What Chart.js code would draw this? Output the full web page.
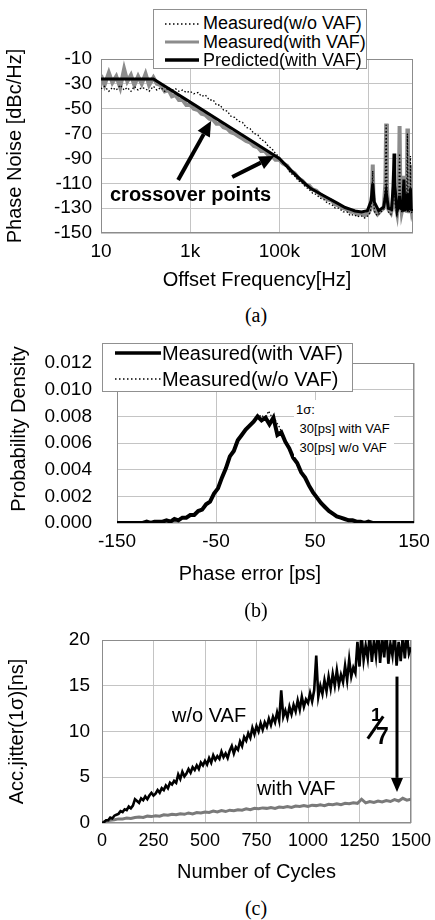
<!DOCTYPE html>
<html>
<head>
<meta charset="utf-8">
<title>VAF jitter</title>
<script src="https://cdn.jsdelivr.net/npm/chart.js@4.4.0/dist/chart.umd.min.js"></script>
<style>
  body { margin: 0; width: 435px; height: 920px; position: relative; overflow: hidden; background: #fff;
         font-family: "Liberation Sans", Arial, sans-serif; color: #000; }
  canvas { position: absolute; left: 0; }
  .txt { position: absolute; white-space: nowrap; line-height: 24px; }
  .cap { position: absolute; font-family: "Liberation Serif", "Times New Roman", serif; font-size: 20px;
         width: 60px; text-align: center; line-height: 24px; }
  .legend { position: absolute; background: #fff; border: 1px solid #909090; z-index: 2; }
  .legend svg { position: absolute; }
  .legend span { position: absolute; white-space: nowrap; }
</style>
</head>
<body>

<canvas id="chartA" width="435" height="300" style="top:0px"></canvas>
<canvas id="chartB" width="435" height="260" style="top:330px"></canvas>
<canvas id="chartC" width="435" height="290" style="top:600px"></canvas>

<!-- legend (a) -->
<div class="legend" style="left:153px;top:9px;width:212px;height:58px;">
  <svg style="left:11px;top:12px" width="34" height="4"><line x1="0" y1="2" x2="34" y2="2" stroke="#000" stroke-width="1.3" stroke-dasharray="1.5 2.5"/></svg>
  <span style="left:49px;top:2px;font-size:18px;line-height:22px">Measured(w/o VAF)</span>
  <svg style="left:11px;top:29px" width="34" height="6"><line x1="0" y1="3" x2="34" y2="3" stroke="#8c8c8c" stroke-width="3"/></svg>
  <span style="left:49px;top:21px;font-size:18px;line-height:22px">Measured(with VAF)</span>
  <svg style="left:11px;top:47px" width="34" height="6"><line x1="0" y1="3" x2="34" y2="3" stroke="#000" stroke-width="3.5"/></svg>
  <span style="left:49px;top:39px;font-size:18px;line-height:22px">Predicted(with VAF)</span>
</div>
<div class="txt" style="left:110px;top:182px;font-size:20px;font-weight:bold;">crossover points</div>
<div class="cap" style="left:226px;top:303px;">(a)</div>

<!-- legend (b) -->
<div class="legend" style="left:102px;top:343px;width:249px;height:47px;">
  <svg style="left:12px;top:6px" width="46" height="6"><line x1="0" y1="3" x2="46" y2="3" stroke="#000" stroke-width="3.5"/></svg>
  <span style="left:59px;top:-3px;font-size:20px;line-height:24px">Measured(with VAF)</span>
  <svg style="left:12px;top:33px" width="46" height="4"><line x1="0" y1="2" x2="46" y2="2" stroke="#000" stroke-width="1.3" stroke-dasharray="1.5 2.5"/></svg>
  <span style="left:59px;top:23px;font-size:20px;line-height:24px">Measured(w/o VAF)</span>
</div>
<div class="txt" style="left:294px;top:400px;font-size:13px;line-height:19px;background:#fff;padding:0 4px 0 2px;">1σ:<br>&nbsp;30[ps] with VAF<br>&nbsp;30[ps] w/o VAF</div>
<div class="txt" style="left:150px;top:561px;width:200px;text-align:center;font-size:20px;">Phase error [ps]</div>
<div class="txt" style="left:-82px;top:417px;width:200px;text-align:center;font-size:20px;transform:rotate(-90deg);">Probability Density</div>
<div class="cap" style="left:226px;top:598px;">(b)</div>

<!-- annotations (c) -->
<div class="txt" style="left:172px;top:703px;font-size:20px;">w/o VAF</div>
<div class="txt" style="left:257px;top:776px;font-size:20px;">with VAF</div>
<div class="txt" style="left:371px;top:703px;font-size:19px;font-weight:bold;">1</div>
<div style="position:absolute;left:374px;top:714px;width:3px;height:27px;background:#000;transform:rotate(35deg);"></div>
<div class="txt" style="left:376px;top:724px;font-size:23px;font-weight:bold;">7</div>
<div class="cap" style="left:226px;top:896px;">(c)</div>

<script>
// ---------- (a) phase noise ----------
const freqTicks = [10, 1e3, 1e5, 1e7];
const freqTickLabels = ['10', '1k', '100k', '10M'];
const noiseTicks = [-150, -130, -110, -90, -70, -50, -30, -10];

const predFreq = [10, 150, 1000, 10000, 100000, 200000, 300000, 500000, 1e6, 2e6, 3e6, 4e6, 5e6, 7e6, 9.5e6,
  1.15e7, 1.25e7, 1.35e7, 1.7e7, 2.2e7, 2.5e7, 2.8e7, 3.3e7, 3.6e7, 3.75e7, 3.9e7, 4.4e7, 4.8e7, 5e7, 5.2e7,
  5.8e7, 6.25e7, 6.6e7, 7.2e7, 7.5e7, 7.8e7, 8.4e7, 8.75e7, 9.1e7, 9.6e7];
const predNoise = [-26, -26, -44.7, -67.4, -90, -101, -107, -114, -120, -126, -129.5, -131, -132.3, -133, -132,
  -124, -110, -125, -132, -129, -117, -130, -131, -112, -86, -112, -132, -128, -120, -130,
  -131, -107, -131, -130, -118, -131, -130, -114, -131, -132];

const measFreq = [10, 12, 15, 18, 22, 27, 33, 39, 47, 56, 68, 82,
  100, 120, 150, 180, 220, 270, 330, 390, 470, 560, 680, 820,
  1000, 1200, 1500, 1800, 2200, 2700, 3300, 3900, 4700, 5600, 6800, 8200,
  10000, 12000, 15000, 18000, 22000, 27000, 33000, 39000, 47000, 56000, 68000, 82000,
  100000, 120000, 150000, 180000, 220000, 270000, 330000, 390000, 470000, 560000, 680000, 820000,
  1e6, 1.2e6, 1.5e6, 1.8e6, 2.2e6, 2.7e6, 3.3e6, 3.9e6, 4.7e6, 5.6e6, 6.8e6, 8.2e6,
  1e7, 1.1e7, 1.2e7, 1.25e7, 1.3e7, 1.4e7, 1.6e7, 1.9e7, 2.2e7, 2.4e7,
  2.5e7, 2.6e7, 2.8e7, 3.2e7, 3.5e7, 3.75e7, 4e7, 4.4e7, 4.8e7, 5e7,
  5.2e7, 5.6e7, 6e7, 6.25e7, 6.5e7, 7e7, 7.3e7, 7.5e7, 7.7e7, 8.2e7,
  8.6e7, 8.75e7, 8.9e7, 9.4e7, 9.9e7];
const measWithVAF = [-23, -31, -21, -29, -24, -33, -18, -28, -23, -31, -24, -30,
  -22, -31, -25, -30, -31, -36, -35, -40, -39, -43, -43, -47,
  -47, -50, -51, -54, -55, -58, -59, -62, -62, -65, -66, -69,
  -70, -72, -74, -76, -77, -80, -81, -84, -84, -87, -88, -91,
  -91, -94, -96, -100, -102, -106, -108, -111, -112, -115, -116, -119,
  -121, -123, -124, -127, -128, -130, -131, -133, -133, -135, -134, -136,
  -134, -131, -120, -95, -122, -132, -135, -132, -130, -110,
  -62, -112, -131, -134, -128, -100, -126, -134, -120, -64,
  -118, -133, -128, -104, -130, -132, -115, -66, -118, -134,
  -122, -95, -125, -133, -130];
const measWithoutVAF = [-34, -32, -36, -33, -35, -31, -35, -33, -36, -32, -35, -33,
  -34, -36, -32, -35, -33, -36, -33, -35, -34, -36, -35, -37,
  -36, -38, -37, -40, -39, -43, -43, -47, -47, -51, -52, -56,
  -57, -60, -61, -65, -66, -70, -71, -75, -76, -80, -82, -86,
  -89, -94, -97, -102, -104, -108, -110, -113, -115, -118, -119, -122,
  -123, -126, -127, -130, -130, -133, -133, -136, -135, -137, -136, -138,
  -136, -133, -124, -100, -126, -134, -136, -133, -131, -112,
  -63, -114, -133, -135, -126, -104, -127, -135, -124, -86,
  -122, -134, -129, -110, -131, -133, -118, -70, -120, -134,
  -124, -88, -126, -134, -131];

// arrows: [fromX, fromY, toX, toY] in data units
const arrowsA = [[537, -107.3, 2950, -59.9], [8790, -104.9, 77300, -88]];

// ---------- (b) probability density ----------
const errTicks = [-150, -50, 50, 150];
const densTicks = [0, 0.002, 0.004, 0.006, 0.008, 0.010, 0.012];
const errWith = [-150, -140, -130, -124, -120, -116, -112, -108, -104, -100, -96, -92, -88, -84, -80, -76, -72, -68,
  -64, -60, -56, -52, -48, -44, -40, -36, -32, -28, -24, -20, -16, -12, -8, -4, 0, 4, 8, 12, 16, 20, 24, 28,
  32, 36, 40, 44, 48, 52, 56, 60, 64, 68, 72, 76, 80, 84, 88, 92, 96, 100, 104, 108, 112, 120, 130, 140, 150];
const densWith = [0, 0, 0, 0.0000, 0.0001, 0.0000, 0.0001, 0.0001, 0.0001, 0.0002, 0.0001, 0.0003, 0.0002, 0.0004,
  0.0004, 0.0006, 0.0006, 0.0009, 0.0010, 0.0014, 0.0016, 0.0022, 0.0026, 0.0034, 0.0041, 0.0050, 0.0054,
  0.0062, 0.0066, 0.0070, 0.0073, 0.0076, 0.0080, 0.0077, 0.0079, 0.0074, 0.0079, 0.0066, 0.0068, 0.0061,
  0.0056, 0.0049, 0.0045, 0.0038, 0.0034, 0.0028, 0.0023, 0.0019, 0.0015, 0.0012, 0.0009, 0.0007, 0.0005,
  0.0004, 0.0003, 0.0002, 0.0002, 0.0001, 0.0001, 0.0000, 0.0001, 0.0000, 0.0000, 0, 0, 0, 0];
const errWithout = [-130, -110, -90, -80, -70, -60, -50, -40, -30, -20, -14, -8, -4, 0, 3, 6, 10, 14, 20, 30, 40,
  50, 60, 70, 80, 90, 100, 110, 130];
const densWithout = [0, 0.0001, 0.0003, 0.0004, 0.0008, 0.0013, 0.0024, 0.0042, 0.0060, 0.0071, 0.0075, 0.0079,
  0.0081, 0.0078, 0.0084, 0.0080, 0.0077, 0.0072, 0.0062, 0.0046, 0.0033, 0.0021, 0.0012, 0.0006, 0.0003,
  0.0001, 0.0001, 0.0000, 0];

// ---------- (c) accumulated jitter ----------
const cycleTicks = [0, 250, 500, 750, 1000, 1250, 1500];
const jitterTicks = [0, 5, 10, 15, 20];
const cyclesWithout = [0, 10, 20, 30, 40, 50, 60, 70, 80, 90, 100, 110, 120, 130, 140, 150, 160, 170, 180, 190,
  200, 210, 220, 230, 240, 250, 260, 270, 280, 290, 300, 310, 320, 330, 340, 350, 360, 370, 380, 390,
  400, 410, 420, 430, 440, 450, 460, 470, 480, 490, 500, 510, 520, 530, 540, 550, 560, 570, 580, 590,
  600, 610, 620, 630, 640, 650, 660, 670, 680, 690, 700, 710, 720, 730, 740, 750, 760, 770, 780, 790,
  800, 810, 820, 830, 840, 850, 860, 870, 880, 890, 900, 910, 920, 930, 940, 950, 960, 970, 980, 990,
  1000, 1010, 1020, 1030, 1040, 1050, 1060, 1070, 1080, 1090, 1100, 1110, 1120, 1130, 1140, 1150, 1160, 1170, 1180, 1190,
  1200, 1210, 1220, 1230, 1240, 1250, 1260, 1270, 1280, 1290, 1300, 1310, 1320, 1330, 1340, 1350, 1360, 1370, 1380, 1390,
  1400, 1410, 1420, 1430, 1440, 1450, 1460, 1470, 1480, 1490, 1500];
const jitterWithout = [0.0, 0.1, 0.3, 0.3, 0.6, 0.5, 0.8, 0.9, 1.0, 1.3, 1.2, 1.5, 1.4, 1.8, 1.6, 1.9, 2.6, 2.4, 2.2, 2.7,
  2.5, 2.9, 2.6, 3.0, 3.3, 3.0, 3.2, 3.6, 3.3, 3.8, 3.6, 4.1, 3.8, 4.4, 4.2, 4.6, 4.4, 5.3, 4.8, 5.6,
  5.1, 5.4, 5.9, 5.5, 6.1, 5.8, 6.3, 5.9, 6.6, 6.3, 6.8, 6.4, 7.1, 6.6, 7.4, 6.9, 7.3, 7.0, 7.8, 7.2,
  7.6, 7.1, 7.9, 8.4, 7.6, 8.3, 8.0, 8.9, 8.4, 9.4, 9.0, 9.8, 9.3, 10.4, 9.7, 10.6, 10.0, 10.9, 10.2, 11.0,
  10.5, 11.4, 10.7, 11.6, 11.0, 12.1, 11.2, 14.5, 11.6, 12.3, 11.5, 12.7, 11.9, 12.9, 12.2, 13.4, 12.4, 13.8, 12.7, 13.5,
  13.1, 14.2, 13.3, 14.5, 18.3, 13.8, 15.0, 14.1, 15.6, 14.4, 16.0, 14.7, 16.3, 15.0, 16.7, 15.1, 16.2, 15.4, 17.2, 15.6,
  17.9, 16.0, 17.0, 16.4, 19.8, 17.1, 20.6, 17.8, 19.4, 18.0, 20.8, 17.6, 19.9, 18.2, 21.0, 17.5, 20.3, 18.1, 21.2, 17.4,
  19.6, 18.3, 20.9, 17.2, 19.8, 17.7, 20.4, 18.0, 20.7, 18.5, 19.2];
const cyclesWith = [0, 20, 40, 60, 80, 100, 120, 140, 160, 180, 200, 220, 240, 260, 280, 300, 320, 340, 360, 380,
  400, 420, 440, 460, 480, 500, 520, 540, 560, 580, 600, 620, 640, 660, 680, 700, 720, 740, 760, 780,
  800, 820, 840, 860, 880, 900, 920, 940, 960, 980, 1000, 1020, 1040, 1060, 1080, 1100, 1120, 1140, 1160, 1180,
  1200, 1220, 1240, 1260, 1280, 1300, 1320, 1340, 1360, 1380, 1400, 1420, 1440, 1460, 1480, 1500];
const jitterWith = [0.0, 0.2, 0.3, 0.35, 0.45, 0.45, 0.55, 0.5, 0.6, 0.65,
  0.6, 0.75, 0.7, 0.8, 0.75, 0.9, 0.85, 0.95, 0.9, 1.0,
  0.95, 1.1, 1.0, 1.15, 1.1, 1.2, 1.15, 1.3, 1.2, 1.35,
  1.25, 1.4, 1.35, 1.45, 1.4, 1.55, 1.45, 1.6, 1.55, 1.65,
  1.6, 1.7, 1.6, 1.75, 1.7, 1.8, 1.7, 1.85, 1.8, 1.9,
  1.8, 1.95, 1.9, 2.0, 1.9, 2.05, 2.0, 2.1, 2.0, 2.15,
  2.1, 2.2, 2.15, 2.6, 2.2, 2.35, 2.25, 2.4, 2.3, 2.45,
  2.35, 2.55, 2.4, 2.7, 2.5, 2.6];
const arrowsC = [[1432, 16, 1432, 3.4]];

// ---------- helpers ----------
const FONT = '"Liberation Sans", Arial, sans-serif';
const GRID = '#c4c4c4';
const FRAME = '#8c8c8c';

function pts(xs, ys) {
  return xs.map(function (x, i) { return { x: x, y: ys[i] }; });
}

// gray frame round the plot area
const framePlugin = {
  id: 'frame',
  beforeDatasetsDraw: function (chart) {
    const a = chart.chartArea, ctx = chart.ctx;
    ctx.save();
    ctx.strokeStyle = FRAME;
    ctx.lineWidth = 1;
    ctx.strokeRect(a.left + 0.5, a.top + 0.5, a.right - a.left - 1, a.bottom - a.top - 1);
    ctx.restore();
  }
};

// black arrows given in data units
const arrowPlugin = {
  id: 'arrows',
  afterDatasetsDraw: function (chart, args, opts) {
    const ctx = chart.ctx, sx = chart.scales.x, sy = chart.scales.y;
    ctx.save();
    ctx.strokeStyle = '#000';
    ctx.fillStyle = '#000';
    (opts.list || []).forEach(function (a) {
      const x1 = sx.getPixelForValue(a[0]), y1 = sy.getPixelForValue(a[1]);
      const x2 = sx.getPixelForValue(a[2]), y2 = sy.getPixelForValue(a[3]);
      const ang = Math.atan2(y2 - y1, x2 - x1);
      const hw = opts.headWidth / 2;
      const bx = x2 - opts.head * Math.cos(ang), by = y2 - opts.head * Math.sin(ang);
      ctx.lineWidth = opts.width;
      ctx.beginPath(); ctx.moveTo(x1, y1); ctx.lineTo(bx, by); ctx.stroke();
      ctx.beginPath();
      ctx.moveTo(x2, y2);
      ctx.lineTo(bx + hw * Math.sin(ang), by - hw * Math.cos(ang));
      ctx.lineTo(bx - hw * Math.sin(ang), by + hw * Math.cos(ang));
      ctx.closePath(); ctx.fill();
    });
    ctx.restore();
  }
};

function xAxis(extra) {
  return Object.assign({
    grid: { color: GRID, drawTicks: false },
    border: { display: false },
    afterFit: function (s) { s.height = 67; s.paddingLeft = 0; s.paddingRight = 0; },
    ticks: { autoSkip: false, maxRotation: 0, padding: 7, color: '#000', font: { family: FONT, size: 19 } }
  }, extra);
}
function yAxis(width, pad, extra) {
  return Object.assign({
    grid: { color: GRID, drawTicks: false },
    border: { display: false },
    afterFit: function (s) { s.width = width; s.paddingTop = 0; s.paddingBottom = 0; },
    ticks: { autoSkip: false, padding: pad, color: '#000', font: { family: FONT, size: 19 } }
  }, extra);
}
function baseOptions(padTop, padRight) {
  return {
    responsive: false, animation: false, events: [],
    layout: { padding: { top: padTop, right: padRight, left: 0, bottom: 0 } },
    elements: { point: { radius: 0 }, line: { tension: 0 } },
    plugins: { legend: { display: false }, tooltip: { enabled: false } }
  };
}

// ---------- chart (a) ----------
const optA = baseOptions(59, 22);
optA.plugins.arrows = { list: arrowsA, width: 4, head: 15, headWidth: 14 };
optA.scales = {
  x: xAxis({
    type: 'logarithmic', min: 10, max: 1e8,
    afterBuildTicks: function (s) { s.ticks = freqTicks.map(function (v) { return { value: v }; }); },
    ticks: { autoSkip: false, maxRotation: 0, padding: 7, color: '#000', font: { family: FONT, size: 19 },
             callback: function (v, i) { return freqTickLabels[i]; } },
    title: { display: true, text: 'Offset Frequency[Hz]', color: '#000', font: { family: FONT, size: 20 },
             padding: { top: 0, bottom: 8 } }
  }),
  y: yAxis(101, 9, {
    min: -150, max: -10,
    afterBuildTicks: function (s) { s.ticks = noiseTicks.map(function (v) { return { value: v }; }); },
    title: { display: true, text: 'Phase Noise [dBc/Hz]', color: '#000', font: { family: FONT, size: 20 },
             padding: { top: 3, bottom: 0 } }
  })
};
new Chart(document.getElementById('chartA'), {
  type: 'line',
  data: {
    datasets: [
      { label: 'Predicted(with VAF)', data: pts(predFreq, predNoise), borderColor: '#000', borderWidth: 3, order: 0 },
      { label: 'Measured(w/o VAF)', data: pts(measFreq, measWithoutVAF), borderColor: '#000', borderWidth: 1.3,
        borderDash: [1.5, 2], order: 1 },
      { label: 'Measured(with VAF)', data: pts(measFreq, measWithVAF), borderColor: '#8c8c8c', borderWidth: 4, order: 2 }
    ]
  },
  options: optA,
  plugins: [framePlugin, arrowPlugin]
});

// ---------- chart (b) ----------
const optB = baseOptions(33, 21);
optB.scales = {
  x: xAxis({
    type: 'linear', min: -150, max: 150,
    afterBuildTicks: function (s) { s.ticks = errTicks.map(function (v) { return { value: v }; }); }
  }),
  y: yAxis(117, 25, {
    min: 0, max: 0.012,
    afterBuildTicks: function (s) { s.ticks = densTicks.map(function (v) { return { value: v }; }); },
    ticks: { autoSkip: false, padding: 25, color: '#000', font: { family: FONT, size: 19 },
             callback: function (v) { return v.toFixed(3); } }
  })
};
new Chart(document.getElementById('chartB'), {
  type: 'line',
  data: {
    datasets: [
      { label: 'Measured(with VAF)', data: pts(errWith, densWith), borderColor: '#000', borderWidth: 4, order: 0 },
      { label: 'Measured(w/o VAF)', data: pts(errWithout, densWithout), borderColor: '#000', borderWidth: 1.3,
        borderDash: [1.5, 2], order: 1 }
    ]
  },
  options: optB,
  plugins: [framePlugin]
});

// ---------- chart (c) ----------
const optC = baseOptions(40, 24);
optC.plugins.arrows = { list: arrowsC, width: 3, head: 14, headWidth: 12 };
optC.scales = {
  x: xAxis({
    type: 'linear', min: 0, max: 1500,
    afterBuildTicks: function (s) { s.ticks = cycleTicks.map(function (v) { return { value: v }; }); },
    ticks: { autoSkip: false, maxRotation: 0, padding: 7, color: '#000', font: { family: FONT, size: 18 },
             callback: function (v) { return String(v); } },
    title: { display: true, text: 'Number of Cycles', color: '#000', font: { family: FONT, size: 20 },
             padding: { top: 0, bottom: 6 } }
  }),
  y: yAxis(102, 12, {
    min: 0, max: 20,
    afterBuildTicks: function (s) { s.ticks = jitterTicks.map(function (v) { return { value: v }; }); },
    title: { display: true, text: 'Acc.jitter(1σ)[ns]', color: '#000', font: { family: FONT, size: 20 },
             padding: { top: 5, bottom: 0 } }
  })
};
new Chart(document.getElementById('chartC'), {
  type: 'line',
  data: {
    datasets: [
      { label: 'w/o VAF', data: pts(cyclesWithout, jitterWithout), borderColor: '#000', borderWidth: 2.6, order: 0 },
      { label: 'with VAF', data: pts(cyclesWith, jitterWith), borderColor: '#7a7a7a', borderWidth: 3, order: 1 }
    ]
  },
  options: optC,
  plugins: [framePlugin, arrowPlugin]
});
</script>
</body>
</html>
